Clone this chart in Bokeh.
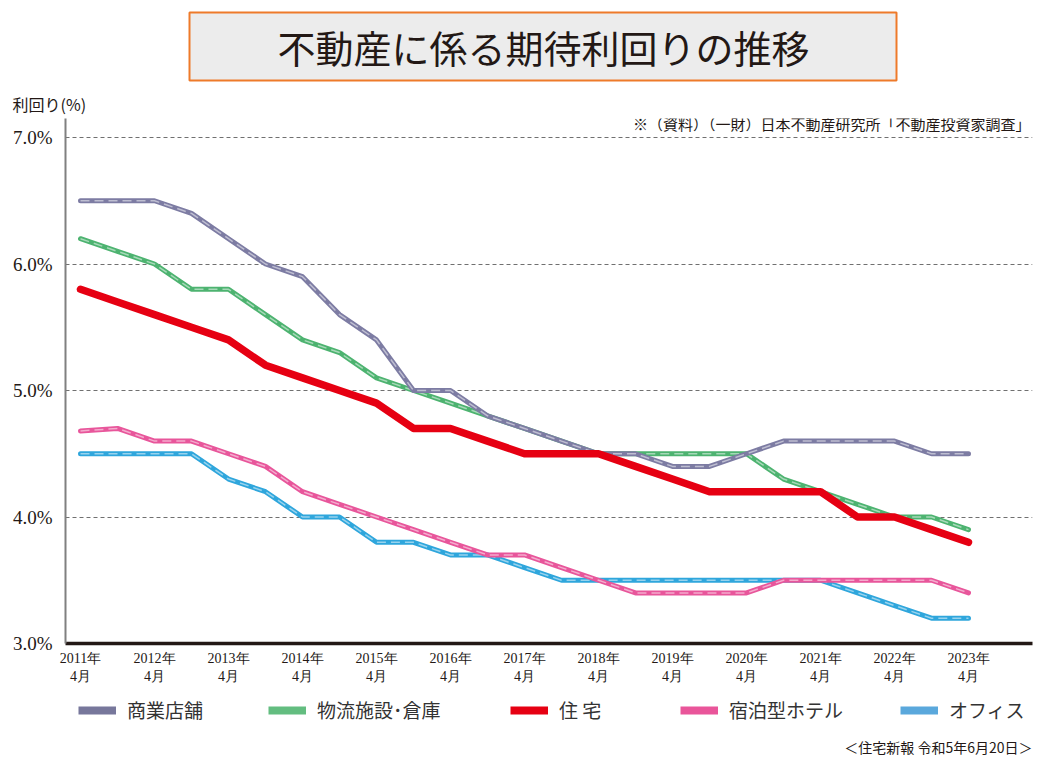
from bokeh.plotting import figure
from bokeh.layouts import column
from bokeh.models import Range1d, FixedTicker, Label, BoxAnnotation, Legend, LegendItem, Title
from bokeh.embed import file_html
from bokeh.resources import INLINE

# ---- data (survey dates: April / October) ----
periods = [2011.0, 2011.5, 2012.0, 2012.5, 2013.0, 2013.5, 2014.0, 2014.5,
           2015.0, 2015.5, 2016.0, 2016.5, 2017.0, 2017.5, 2018.0, 2018.5,
           2019.0, 2019.5, 2020.0, 2020.5, 2021.0, 2021.5, 2022.0, 2022.5, 2023.0]
retail = [6.5, 6.5, 6.5, 6.4, 6.2, 6.0, 5.9, 5.6, 5.4, 5.0, 5.0, 4.8, 4.7,
          4.6, 4.5, 4.5, 4.4, 4.4, 4.5, 4.6, 4.6, 4.6, 4.6, 4.5, 4.5]
logistics = [6.2, 6.1, 6.0, 5.8, 5.8, 5.6, 5.4, 5.3, 5.1, 5.0, 4.9, 4.8, 4.7,
             4.6, 4.5, 4.5, 4.5, 4.5, 4.5, 4.3, 4.2, 4.1, 4.0, 4.0, 3.9]
residential = [5.8, 5.7, 5.6, 5.5, 5.4, 5.2, 5.1, 5.0, 4.9, 4.7, 4.7, 4.6, 4.5,
               4.5, 4.5, 4.4, 4.3, 4.2, 4.2, 4.2, 4.2, 4.0, 4.0, 3.9, 3.8]
hotel = [4.68, 4.7, 4.6, 4.6, 4.5, 4.4, 4.2, 4.1, 4.0, 3.9, 3.8, 3.7, 3.7,
         3.6, 3.5, 3.4, 3.4, 3.4, 3.4, 3.5, 3.5, 3.5, 3.5, 3.5, 3.4]
office = [4.5, 4.5, 4.5, 4.5, 4.3, 4.2, 4.0, 4.0, 3.8, 3.8, 3.7, 3.7, 3.6,
          3.5, 3.5, 3.5, 3.5, 3.5, 3.5, 3.5, 3.5, 3.4, 3.3, 3.2, 3.2]

series_names = ["商業店舗", "物流施設･倉庫", "住 宅", "宿泊型ホテル", "オフィス"]
tick_years = [2011, 2012, 2013, 2014, 2015, 2016, 2017, 2018, 2019, 2020, 2021, 2022, 2023]
tick_labels = [f"{y}年\n4月" for y in tick_years]
y_ticks = [3, 4, 5, 6, 7]
y_tick_labels = ["3.0%", "4.0%", "5.0%", "6.0%", "7.0%"]

title_text = "不動産に係る期待利回りの推移"
y_title = "利回り(%)"
source_text = "※（資料）（一財）日本不動産研究所「不動産投資家調査」"
footer_text = "＜住宅新報 令和5年6月20日＞"

TXT = "#231815"
CJK = "Noto Sans CJK JP"
SERIF = "Liberation Serif"

W = 1050
FRAME_L, FRAME_R = 65, 1032          # page x of the plotting frame (shared by all rows)
H_TOP, H_MAIN, H_BOT = 84, 606, 72
TOP_MAIN = H_TOP                      # page y where main figure starts
FRAME_T_PAGE, FRAME_B_PAGE = 118, 643


def blank(h):
    f = figure(width=W, height=h, output_backend="svg", toolbar_location=None,
               x_range=Range1d(FRAME_L, FRAME_R), y_range=Range1d(h, 0),
               x_axis_location=None, y_axis_location=None,
               min_border_left=FRAME_L, min_border_right=W - FRAME_R,
               min_border_top=0, min_border_bottom=0)
    f.outline_line_color = None
    f.xgrid.visible = False
    f.ygrid.visible = False
    f.background_fill_color = "white"
    f.border_fill_color = "white"
    return f


# ---------------- top: title ----------------
top = blank(H_TOP)
top.add_layout(BoxAnnotation(left=189, right=896, top=12, bottom=80,
                             fill_color="#ececec", fill_alpha=1,
                             line_color="#ee7a2a", line_alpha=1.0, line_width=2))
top.add_layout(Label(x=543, y=46, text=title_text, text_align="center", text_baseline="middle",
                     text_font=CJK, text_font_size="38px", text_color=TXT))

# ---------------- main chart ----------------
PX_YEAR = 74.0
PX_UNIT = 126.5
X_START = 2011 - (80 - FRAME_L) / PX_YEAR
X_END = X_START + (FRAME_R - FRAME_L) / PX_YEAR
Y_END = 3.0 + (FRAME_B_PAGE - FRAME_T_PAGE) / PX_UNIT

p = figure(width=W, height=H_MAIN, output_backend="svg", toolbar_location=None,
           x_range=Range1d(X_START, X_END), y_range=Range1d(3.0, Y_END),
           min_border_left=FRAME_L, min_border_right=W - FRAME_R,
           min_border_top=FRAME_T_PAGE - TOP_MAIN,
           min_border_bottom=TOP_MAIN + H_MAIN - FRAME_B_PAGE)
p.outline_line_color = None
p.background_fill_color = "white"
p.border_fill_color = "white"
p.add_layout(Title(text=y_title, align="left", offset=12 - FRAME_L, standoff=6,
                   text_font=CJK, text_font_size="16px", text_font_style="normal",
                   text_color=TXT), "above")

p.xaxis.ticker = FixedTicker(ticks=tick_years)
p.xaxis.major_label_overrides = {y: l for y, l in zip(tick_years, tick_labels)}
p.xaxis.major_label_text_font = SERIF
p.xaxis.major_label_text_font_size = "14px"
p.xaxis.major_label_text_color = TXT
p.xaxis.major_label_standoff = 7
p.xaxis.major_tick_in = 0
p.xaxis.major_tick_out = 0
p.xaxis.minor_tick_in = 0
p.xaxis.minor_tick_out = 0
p.xaxis.axis_line_color = TXT
p.xaxis.axis_line_width = 3.5

p.yaxis.ticker = FixedTicker(ticks=y_ticks)
p.yaxis.major_label_overrides = {t: l for t, l in zip(y_ticks, y_tick_labels)}
p.yaxis.major_label_text_font = SERIF
p.yaxis.major_label_text_font_size = "19px"
p.yaxis.major_label_text_color = TXT
p.yaxis.major_label_standoff = 13
p.yaxis.major_tick_in = 0
p.yaxis.major_tick_out = 0
p.yaxis.minor_tick_in = 0
p.yaxis.minor_tick_out = 0
p.yaxis.axis_line_color = "#808080"
p.yaxis.axis_line_width = 2

p.xgrid.grid_line_color = None
p.ygrid.ticker = FixedTicker(ticks=[4, 5, 6, 7])
p.ygrid.grid_line_color = "#707070"
p.ygrid.grid_line_dash = "4 3"
p.ygrid.grid_line_width = 1

line_colors = {"office": "#2fa6dc", "hotel": "#e8569b", "logistics": "#4db370",
               "retail": "#7d7ca3", "residential": "#e60012"}
for key, vals in [("office", office), ("hotel", hotel), ("logistics", logistics), ("retail", retail)]:
    p.line(periods, vals, line_color=line_colors[key], line_width=5, line_join="round", line_cap="round")
    p.line(periods, vals, line_color="white", line_alpha=0.5, line_width=1.5,
           line_dash="9 5", line_join="round")
p.line(periods, residential, line_color=line_colors["residential"], line_width=7.5,
       line_join="round", line_cap="round")

p.add_layout(Label(x=X_START + (1030 - FRAME_L) / PX_YEAR, y=3.0 + (FRAME_B_PAGE - 123) / PX_UNIT,
                   text=source_text, text_align="right", text_baseline="middle",
                   text_font=CJK, text_font_size="15px", text_color=TXT))

# ---------------- bottom: legend + footer ----------------
bot = blank(H_BOT)
legend_colors = ["#77779b", "#63bd80", "#e60012", "#e9559a", "#5aa8dc"]
legend_x = [78, 268, 510, 680, 900]   # page x of each legend swatch
for name, col, lx in zip(series_names, legend_colors, legend_x):
    r = bot.line([float("nan")], [float("nan")], line_color=col, line_width=8)
    leg = Legend(items=[LegendItem(label=name, renderers=[r])],
                 location=(lx - FRAME_L, H_BOT - 23 - 10),
                 orientation="horizontal", padding=0, margin=0, border_line_alpha=0,
                 background_fill_alpha=0, glyph_width=38, glyph_height=20, label_height=20,
                 label_standoff=11, label_text_font=CJK, label_text_font_size="19px",
                 label_text_color="#333333")
    bot.add_layout(leg)
bot.add_layout(Label(x=1032, y=56, text=footer_text, text_align="right", text_baseline="middle",
                     text_font=CJK, text_font_size="14px", text_color=TXT))

layout = column(top, p, bot, spacing=0)
open("out.html", "w").write(file_html(layout, INLINE))
